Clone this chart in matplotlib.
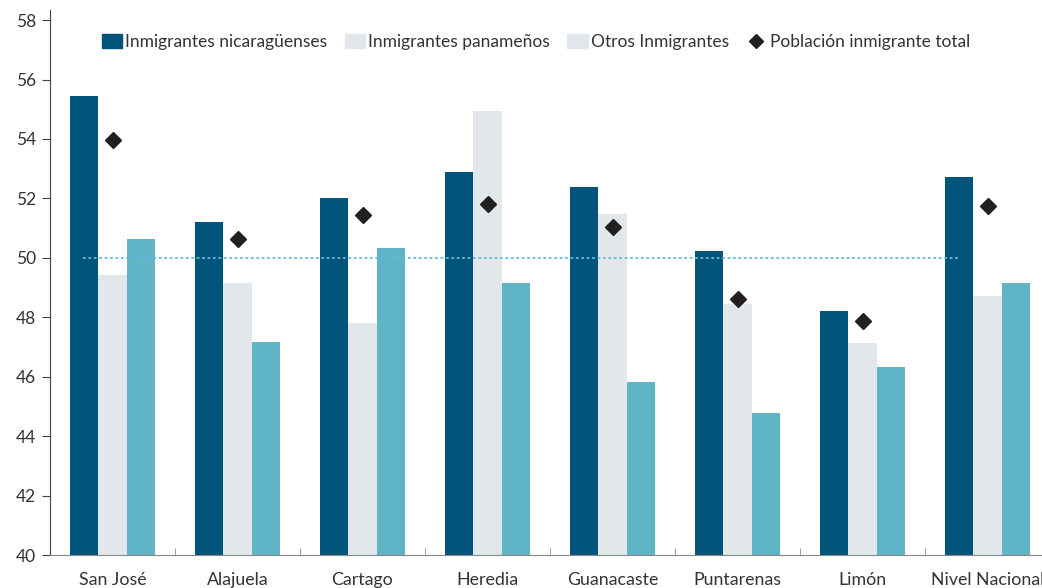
import matplotlib
matplotlib.use("Agg")
import matplotlib.pyplot as plt
import numpy as np
from matplotlib.lines import Line2D
from matplotlib.patches import Patch

categories = ["San José", "Alajuela", "Cartago", "Heredia", "Guanacaste",
              "Puntarenas", "Limón", "Nivel Nacional"]
nicaraguenses = [55.45, 51.22, 52.0, 52.88, 52.38, 50.22, 48.22, 52.72]
panamenos = [49.42, 49.17, 47.82, 54.93, 51.47, 48.43, 47.12, 48.7]
otros = [50.65, 47.18, 50.32, 49.17, 45.83, 44.78, 46.32, 49.17]
total = [53.95, 50.65, 51.43, 51.82, 51.03, 48.63, 47.88, 51.75]
yticks = [40, 42, 44, 46, 48, 50, 52, 54, 56, 58]
ref_level = 50

c_nic = "#03547a"
c_pan = "#e2e7eb"
c_otr = "#5fb4c6"
c_tot = "#231f20"
txt = "#333333"

plt.rcParams['font.family'] = ['Lato', 'DejaVu Sans']

W, H = 1042, 588
fig = plt.figure(figsize=(W / 100, H / 100), dpi=100)
ax_l, ax_r, ax_b, ax_t = 50, 1050, 555, 10
ax = fig.add_axes([ax_l / W, (H - ax_b) / H, (ax_r - ax_l) / W, (ax_b - ax_t) / H])

x = np.arange(len(categories))
bw = 0.228
ax.bar(x - bw, [v - 40 for v in nicaraguenses], bw, bottom=40, color=c_nic, linewidth=0)
ax.bar(x, [v - 40 for v in panamenos], bw, bottom=40, color=c_pan, linewidth=0)
ax.bar(x + bw, [v - 40 for v in otros], bw, bottom=40, color=c_otr, linewidth=0)
ax.plot(x, total, linestyle='none', marker='D', markersize=8, color=c_tot, zorder=5)
ax.plot([-0.236, 6.78], [ref_level, ref_level], linestyle=(0, (1.5, 1.5)),
        color="#5bbde0", linewidth=1.3, zorder=4)

ax.set_xlim(-0.5, len(categories) - 0.5)
ax.set_ylim(40, 58.34)
ax.set_yticks(yticks)
ax.set_yticklabels([str(t) for t in yticks], fontsize=12.5, color=txt)
ax.set_xticks(x)
ax.set_xticklabels(categories, fontsize=12.8, color=txt)
ax.set_xticks(np.arange(-0.5, len(categories), 1), minor=True)
ax.tick_params(axis='x', which='major', length=0, pad=12)
ax.tick_params(axis='x', which='minor', length=5, direction='in', color='#888888')
ax.tick_params(axis='y', which='major', length=6, direction='out', color='#444444', pad=4)

for s in ['top', 'right']:
    ax.spines[s].set_visible(False)
ax.spines['left'].set_color('#444444')
ax.spines['bottom'].set_color('#888888')

handles = [Patch(color=c_nic), Patch(color=c_pan), Patch(color=c_pan),
           Line2D([], [], linestyle='none', marker='D', markersize=7, color=c_tot)]
labels = ["Inmigrantes nicaragüenses", "Inmigrantes panameños", "Otros Inmigrantes",
          "Población inmigrante total"]
fig.legend(handles, labels, loc='center left', bbox_to_anchor=(86 / W, 1 - 42 / H),
           ncol=4, frameon=False, fontsize=12.5, handlelength=1.2, handleheight=0.8,
           handletextpad=0.17, columnspacing=0.98, labelcolor=txt)

fig.savefig("out.png", dpi=100)
